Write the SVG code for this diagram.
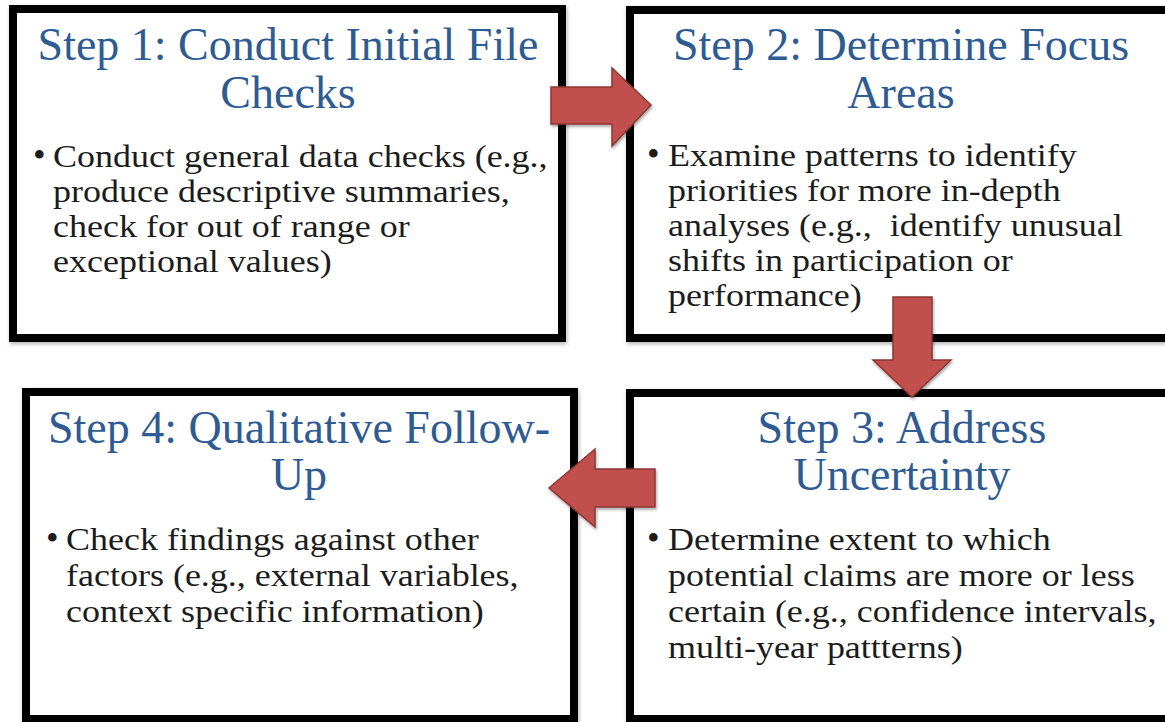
<svg xmlns="http://www.w3.org/2000/svg" width="1165" height="722" viewBox="0 0 1165 722">
<style>
.box{fill:#fff;stroke:#000;stroke-width:8;filter:url(#sh)}
.title{font-family:"Liberation Serif","Times New Roman",serif;font-size:46px;fill:#2f5b93;text-anchor:middle}
.body{font-family:"Liberation Serif","Times New Roman",serif;font-size:31.5px;fill:#1c1c1c}
.bullet{font-family:"Liberation Serif","Times New Roman",serif;font-size:36px;fill:#1c1c1c}
.arrow{fill:#c0504d;stroke:#8c3836;stroke-width:1.5;stroke-linejoin:miter;filter:url(#sh2)}
</style>
<defs>
<filter id="sh" x="-5%" y="-5%" width="110%" height="110%">
<feDropShadow dx="1" dy="2" stdDeviation="2" flood-color="#000" flood-opacity="0.3"/>
</filter>
<filter id="sh2" x="-20%" y="-20%" width="140%" height="140%">
<feDropShadow dx="1" dy="2" stdDeviation="1.5" flood-color="#000" flood-opacity="0.35"/>
</filter>
</defs>
<rect width="1165" height="722" fill="#fff"/>
<g id="step1">
<rect class="box" x="13" y="9" width="549" height="329"/>
<text class="title"><tspan x="288" y="60">Step 1: Conduct Initial File</tspan><tspan x="288" y="107.5">Checks</tspan></text>
<text class="bullet" x="33" y="167">•</text>
<g transform="matrix(1.142857 0 0 1 -7.571 0)">
<text class="body"><tspan x="53" y="167">Conduct general data checks (e.g.,</tspan><tspan x="53" y="202">produce descriptive summaries,</tspan><tspan x="53" y="237">check for out of range or</tspan><tspan x="53" y="272">exceptional values)</tspan></text>
</g>
</g>
<g id="step2">
<rect class="box" x="630" y="10" width="560" height="328"/>
<text class="title"><tspan x="901" y="60">Step 2: Determine Focus</tspan><tspan x="901" y="107.5">Areas</tspan></text>
<text class="bullet" x="647" y="166">•</text>
<g transform="matrix(1.142857 0 0 1 -95.429 0)">
<text class="body"><tspan x="668" y="166">Examine patterns to identify</tspan><tspan x="668" y="201">priorities for more in-depth</tspan><tspan x="668" y="236" xml:space="preserve">analyses (e.g.,  identify unusual</tspan><tspan x="668" y="271">shifts in participation or</tspan><tspan x="668" y="306">performance)</tspan></text>
</g>
</g>
<g id="step3">
<rect class="box" x="630" y="393" width="560" height="326"/>
<text class="title"><tspan x="902" y="443">Step 3: Address</tspan><tspan x="902" y="490">Uncertainty</tspan></text>
<text class="bullet" x="647" y="550">•</text>
<g transform="matrix(1.142857 0 0 1 -95.429 0)">
<text class="body"><tspan x="668" y="550">Determine extent to which</tspan><tspan x="668" y="586">potential claims are more or less</tspan><tspan x="668" y="622">certain (e.g., confidence intervals,</tspan><tspan x="668" y="658">multi-year pattterns)</tspan></text>
</g>
</g>
<g id="step4">
<rect class="box" x="26" y="392" width="548" height="327"/>
<text class="title"><tspan x="299" y="443">Step 4: Qualitative Follow-</tspan><tspan x="299" y="490">Up</tspan></text>
<text class="bullet" x="46" y="550">•</text>
<g transform="matrix(1.142857 0 0 1 -9.429 0)">
<text class="body"><tspan x="66" y="550">Check findings against other</tspan><tspan x="66" y="586">factors (e.g., external variables,</tspan><tspan x="66" y="622">context specific information)</tspan></text>
</g>
</g>
<g id="connectors">
<polygon class="arrow" points="551,87 612,87 612,68 651,105 612,146 612,124 551,124"/>
<polygon class="arrow" points="893,297 932,297 932,360 951,360 912,397 873,360 893,360"/>
<polygon class="arrow" points="655,469 595,469 595,449 549,488 595,527 595,507 655,507"/>
</g>
</svg>
